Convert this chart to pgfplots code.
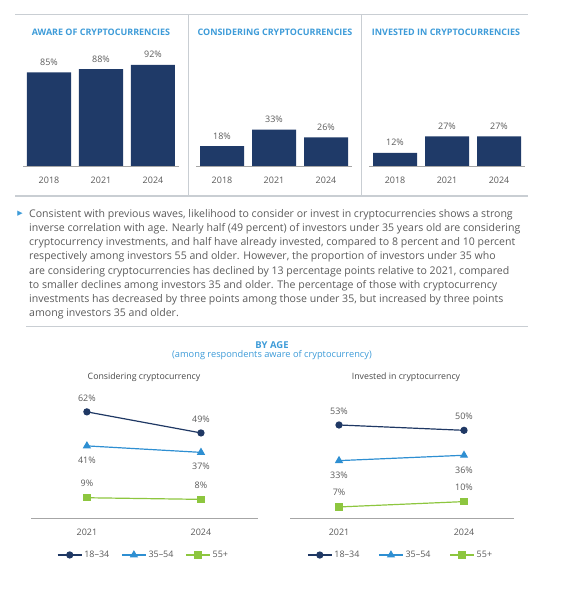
\documentclass[border=0pt]{standalone}
\usepackage{fontspec}
\setmainfont{Open Sans}
\newfontfamily\symfont{DejaVu Sans}
\usepackage{pgfplots}
\pgfplotsset{compat=1.18}
\definecolor{navy}{HTML}{1F3864}
\definecolor{barc}{HTML}{1F3A68}
\definecolor{ttl}{HTML}{3D9BD8}
\definecolor{mid}{HTML}{2E8FD2}
\definecolor{grn}{HTML}{8DC63F}
\definecolor{txt}{HTML}{5A5A5A}
\definecolor{rulec}{HTML}{C9CED3}
\newcommand{\fs}[1]{\fontsize{#1}{#1}\selectfont}
\pgfplotsset{
 /pgf/number format/assume math mode=true,
 barpanel/.style={
  scale only axis, width=156bp, height=110bp, ymin=0, ymax=100, xmin=-0.5, xmax=2.5,
  axis x line=bottom, axis y line=none,
  x axis line style={-, draw=gray!70, line width=0.8bp},
  xtick={0,1,2}, xticklabels={2018,2021,2024}, major tick length=0,
  xticklabel style={anchor=center, yshift=-14bp, font=\fs{9}, text=txt},
  ybar, bar width=44bp, clip=false,
  nodes near coords={\pgfmathprintnumber{\pgfplotspointmeta}\%},
  every node near coord/.append style={anchor=center, yshift=10bp, font=\fs{9}, text=txt},
 },
 linepanel/.style={
  scale only axis, clip=false,
  axis x line=bottom, axis y line=none,
  x axis line style={-, draw=gray!70, line width=0.8bp},
  xtick={0,1}, xticklabels={2021,2024}, major tick length=0,
  xticklabel style={anchor=center, yshift=-14bp, font=\fs{9}, text=txt},
  legend columns=3,
  legend style={draw=none, fill=none, font=\fs{9}, text=txt, anchor=center},
  legend image code/.code={\draw[mark repeat=2,mark phase=2,##1] plot coordinates {(0bp,0bp) (12bp,0bp) (24bp,0bp)};},
 },
 p1/.style={color=navy, line width=1.2bp, mark=*, mark size=3bp, mark options={fill=navy, solid}},
 p2/.style={color=mid, line width=1.2bp, mark=triangle*, mark size=3.6bp, mark options={fill=mid, solid}},
 p3/.style={color=grn, line width=1.2bp, mark=square*, mark size=3.1bp, mark options={fill=grn, solid}},
 lab/.style={nodes near coords={\pgfmathprintnumber{\pgfplotspointmeta}\%},
   every node near coord/.append style={anchor=center, yshift=#1, font=\fs{9}, text=txt}},
}
\begin{document}
\begin{tikzpicture}
\path (0bp,0bp) rectangle (561bp,600bp);
% frame lines top section
\draw[rulec, line width=1bp] (15bp,585bp) -- (528bp,585bp);
\draw[rulec, line width=1.2bp] (15bp,404bp) -- (528bp,404bp);
\draw[rulec, line width=0.8bp] (188bp,585bp) -- (188bp,404bp);
\draw[rulec, line width=0.8bp] (361bp,585bp) -- (361bp,404bp);
\draw[rulec, line width=1bp] (26bp,273bp) -- (528bp,273bp);
% panel titles
\node[text=ttl, font=\fs{9}\bfseries] at (101bp,568bp) {AWARE OF CRYPTOCURRENCIES};
\node[text=ttl, font=\fs{9}\bfseries] at (275bp,568bp) {CONSIDERING CRYPTOCURRENCIES};
\node[text=ttl, font=\fs{9}\bfseries] at (446bp,568bp) {INVESTED IN CRYPTOCURRENCIES};

\begin{axis}[barpanel, at={(23bp,434bp)}, anchor=south west]
\addplot[fill=barc, draw=none] coordinates {(0,85) (1,88) (2,92)};
\end{axis}
\begin{axis}[barpanel, at={(196bp,434bp)}, anchor=south west]
\addplot[fill=barc, draw=none] coordinates {(0,18) (1,33) (2,26)};
\end{axis}
\begin{axis}[barpanel, at={(369bp,434bp)}, anchor=south west]
\addplot[fill=barc, draw=none] coordinates {(0,12) (1,27) (2,27)};
\end{axis}

% paragraph
\node[text=ttl, font=\symfont\fs{7}] at (20bp,386bp) {▶};
\begin{scope}[every node/.style={anchor=base west, inner sep=0pt, text=txt, font=\fs{10.6}}]
\node at (29bp,382.5bp) {Consistent with previous waves, likelihood to consider or invest in cryptocurrencies shows a strong};
\node at (29bp,368.36bp) {inverse correlation with age. Nearly half (49 percent) of investors under 35 years old are considering};
\node at (29bp,354.22bp) {cryptocurrency investments, and half have already invested, compared to 8 percent and 10 percent};
\node at (29bp,340.08bp) {respectively among investors 55 and older. However, the proportion of investors under 35 who};
\node at (29bp,325.94bp) {are considering cryptocurrencies has declined by 13 percentage points relative to 2021, compared};
\node at (29bp,311.8bp) {to smaller declines among investors 35 and older. The percentage of those with cryptocurrency};
\node at (29bp,297.66bp) {investments has decreased by three points among those under 35, but increased by three points};
\node at (29bp,283.52bp) {among investors 35 and older.};
\end{scope}

% by age titles
\node[text=ttl, font=\fs{9.5}\bfseries] at (272bp,255bp) {BY AGE};
\node[text=ttl, font=\fs{9.3}] at (272bp,245bp) {(among respondents aware of cryptocurrency)};
\node[text=txt!80!black, font=\fs{8.8}] at (144bp,223bp) {Considering cryptocurrency};
\node[text=txt!80!black, font=\fs{8.8}] at (406bp,223bp) {Invested in cryptocurrency};

\begin{axis}[linepanel, at={(31bp,82bp)}, anchor=south west, width=227bp, height=111bp,
  xmin=-0.49, xmax=1.5, ymin=-3.5, ymax=65,
  legend style={at={(axis description cs:0.496,-0.333)},
    /tikz/every even column/.append style={column sep=10bp}}]
\addplot[p1, lab=14bp] coordinates {(0,62) (1,49)};
\addlegendentry{18--34}
\addplot[p2, lab=-14bp] coordinates {(0,41) (1,37)};
\addlegendentry{35--54}
\addplot[p3, lab=14bp] coordinates {(0,9) (1,8)};
\addlegendentry{55+}
\end{axis}

\begin{axis}[linepanel, at={(290bp,82bp)}, anchor=south west, width=224bp, height=105.5bp,
  xmin=-0.392, xmax=1.4, ymin=0.8, ymax=60,
  legend style={at={(axis description cs:0.494,-0.351)},
    /tikz/every even column/.append style={column sep=17bp}}]
\addplot[p1, lab=14bp] coordinates {(0,53) (1,50)};
\addlegendentry{18--34}
\addplot[p2, lab=-15bp] coordinates {(0,33) (1,36)};
\addlegendentry{35--54}
\addplot[p3, lab=14.5bp] coordinates {(0,7) (1,10)};
\addlegendentry{55+}
\end{axis}
\end{tikzpicture}
\end{document}
